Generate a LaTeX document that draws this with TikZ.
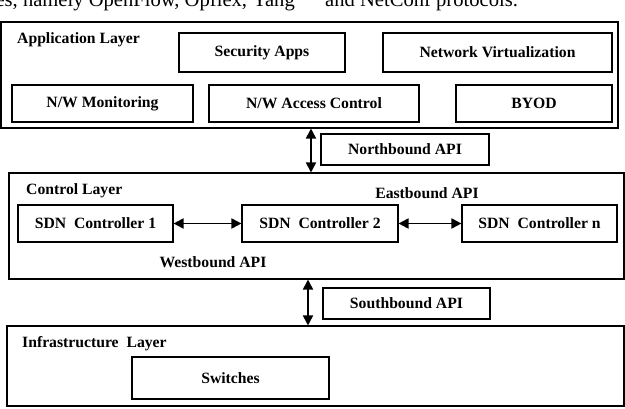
\documentclass[tikz,border=0pt]{standalone}
\usepackage{fontspec}
\setmainfont{Liberation Serif}
\usetikzlibrary{arrows.meta}
\begin{document}
\begin{tikzpicture}[x=1pt,y=-1pt,
  box/.style={draw=black,line width=1.1pt,rectangle,inner sep=0pt,
    font=\fontsize{15.7}{18}\selectfont\bfseries},
  lbl/.style={inner sep=0pt,font=\fontsize{15.7}{18}\selectfont\bfseries},
  runtext/.style={inner sep=0pt,font=\fontsize{20.6}{24}\selectfont},
  biarrow/.style={line width=1.8pt,{Triangle[length=10pt,width=10pt]}-{Triangle[length=10pt,width=10pt]}}]
\clip (0,0) rectangle (625,408);
\useasboundingbox (0,0) rectangle (625,408);
\fill[white] (0,0) rectangle (625,408);

% running text above the figure
\node[runtext,anchor=base east] (txta) at (295,6) {es, namely OpenFlow, Opflex, Yang};
\node[runtext,anchor=base west] (txtb) at (325,6) {and NetConf protocols.};

% application layer
\node[box,minimum width=617pt,minimum height=106pt] (app) at (309.5,75) {};
\node[lbl,anchor=west] (applbl) at (17,40) {Application Layer};
\node[box,minimum width=166pt,minimum height=39pt] (sec) at (262,52.5) {Security Apps};
\node[box,minimum width=229pt,minimum height=39pt] (nv) at (497.5,52.5) {Network Virtualization};
\node[box,minimum width=181pt,minimum height=37pt] (mon) at (102.5,103.5) {N/W Monitoring};
\node[box,minimum width=210pt,minimum height=37pt] (nac) at (314,103.5) {N/W Access Control};
\node[box,minimum width=156pt,minimum height=37pt] (byod) at (534,103.5) {BYOD};

% northbound interface
\node[box,minimum width=168pt,minimum height=31pt] (nb) at (405,149.5) {Northbound API};

% control layer
\node[box,minimum width=615pt,minimum height=106pt] (ctl) at (316.5,226) {};
\node[lbl,anchor=west] (ctllbl) at (26,191) {Control Layer};
\node[box,minimum width=155pt,minimum height=37pt] (c1) at (95.5,223.5) {SDN\ \ Controller 1};
\node[box,minimum width=156pt,minimum height=37pt] (c2) at (320,223.5) {SDN\ \ Controller 2};
\node[box,minimum width=155pt,minimum height=37pt] (cn) at (539.5,223.5) {SDN\ \ Controller n};
\node[lbl] (east) at (427,193) {Eastbound API};
\node[lbl] (west) at (213,262) {Westbound API};

% southbound interface
\node[box,minimum width=167pt,minimum height=31pt] (sb) at (406.5,303.5) {Southbound API};

% infrastructure layer
\node[box,minimum width=617pt,minimum height=80pt] (infra) at (315.5,366) {};
\node[lbl,anchor=west] (infralbl) at (22,344) {Infrastructure\ \ Layer};
\node[box,minimum width=197pt,minimum height=42pt] (sw) at (230.5,378) {Switches};

% connectors
\coordinate (nx) at (311,0);
\coordinate (sx) at (308,0);
\draw[biarrow] (app.south -| nx) -- (ctl.north -| nx);
\draw[biarrow] (ctl.south -| sx) -- (infra.north -| sx);
\draw[biarrow] (c1.east) -- (c2.west);
\draw[biarrow] (c2.east) -- (cn.west);
\end{tikzpicture}
\end{document}
